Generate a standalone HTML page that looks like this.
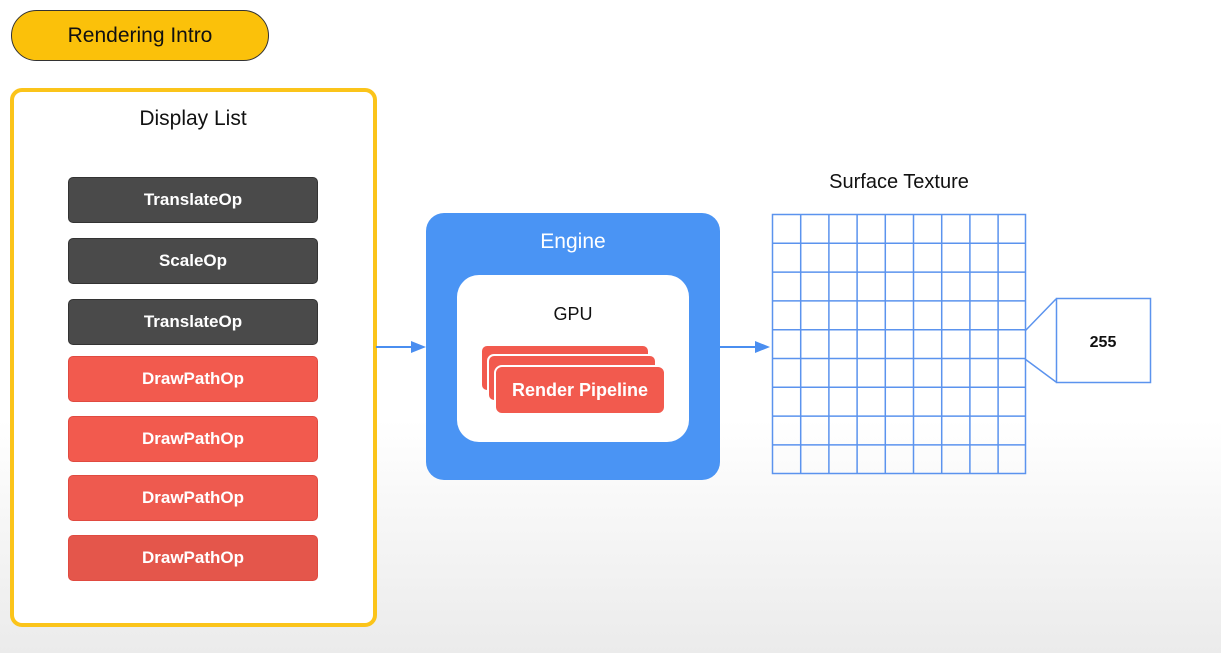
<!DOCTYPE html>
<html><head><style>
body{margin:0;width:1221px;height:653px;overflow:hidden;font-family:"Liberation Sans",sans-serif;background:linear-gradient(#fff 0,#fff 420px,#ebebeb 653px);position:relative}
.a{position:absolute;box-sizing:border-box}
.op{position:absolute;left:68px;width:250px;height:46px;border-radius:5px;color:#fff;font-weight:bold;font-size:17px;display:flex;align-items:center;justify-content:center;box-sizing:border-box}
.d{background:#4a4a4a;border:1px solid #333}
.r{background:#f25a4e;border:1px solid #e04a40}
</style></head><body>
<div class="a" style="left:11px;top:10px;width:258px;height:51px;border-radius:26px;background:#fbc10a;border:1px solid #333;display:flex;align-items:center;justify-content:center;font-size:21px;color:#111">Rendering Intro</div>
<div class="a" style="left:10px;top:88px;width:367px;height:539px;border:4px solid #fbc41a;border-radius:12px;background:#fff"></div>
<div class="a" style="left:11px;top:107px;width:364px;text-align:center;font-size:21px;color:#111">Display List</div>
<div class="op d" style="top:177px">TranslateOp</div>
<div class="op d" style="top:238px">ScaleOp</div>
<div class="op d" style="top:299px">TranslateOp</div>
<div class="op r" style="top:356px">DrawPathOp</div>
<div class="op r" style="top:416px">DrawPathOp</div>
<div class="op r" style="top:475px;background:#ee5a4f">DrawPathOp</div>
<div class="op r" style="top:535px;background:#e4564b">DrawPathOp</div>
<div class="a" style="left:426px;top:213px;width:294px;height:267px;border-radius:18px;background:#4a94f4"></div>
<div class="a" style="left:426px;top:230px;width:294px;text-align:center;font-size:21px;color:#fff">Engine</div>
<div class="a" style="left:457px;top:275px;width:232px;height:167px;border-radius:22px;background:#fff"></div>
<div class="a" style="left:457px;top:304px;width:232px;text-align:center;font-size:18px;color:#111">GPU</div>
<div class="a" style="left:480px;top:344px;width:170px;height:48px;border-radius:7px;background:#f25a4e;border:2px solid #fff"></div>
<div class="a" style="left:487px;top:354px;width:170px;height:48px;border-radius:7px;background:#f25a4e;border:2px solid #fff"></div>
<div class="a" style="left:494px;top:365px;width:172px;height:50px;border-radius:8px;background:#f25a4e;border:2px solid #fff;color:#fff;font-weight:bold;font-size:18px;display:flex;align-items:center;justify-content:center">Render Pipeline</div>
<div class="a" style="left:772px;top:171px;width:254px;text-align:center;font-size:20px;color:#111">Surface Texture</div>
<svg class="a" style="left:0;top:0" width="1221" height="653">
<g stroke="#4a8ef0" stroke-width="2" fill="#4a8ef0">
<line x1="376" y1="347" x2="414" y2="347"/><polygon points="426,347 411,341 411,353" stroke="none"/>
<line x1="720" y1="347" x2="758" y2="347"/><polygon points="770,347 755,341 755,353" stroke="none"/>
</g>
<g stroke="#5b93ee" stroke-width="1.5" fill="none">
<rect x="772.5" y="214.5" width="253" height="259"/>
<path d="M800.7 214.5V473.5M828.9 214.5V473.5M857.1 214.5V473.5M885.3 214.5V473.5M913.5 214.5V473.5M941.7 214.5V473.5M969.9 214.5V473.5M998.1 214.5V473.5"/>
<path d="M772.5 243.3H1025.5M772.5 272.1H1025.5M772.5 300.9H1025.5M772.5 329.7H1025.5M772.5 358.5H1025.5M772.5 387.3H1025.5M772.5 416.1H1025.5M772.5 444.9H1025.5"/>
<rect x="1056.5" y="298.5" width="94" height="84"/>
<line x1="1025" y1="331" x2="1056" y2="299"/><line x1="1025" y1="359" x2="1056" y2="382"/>
</g>
<text x="1103" y="347" text-anchor="middle" font-family="Liberation Sans" font-weight="bold" font-size="16" fill="#111">255</text>
</svg>
</body></html>
